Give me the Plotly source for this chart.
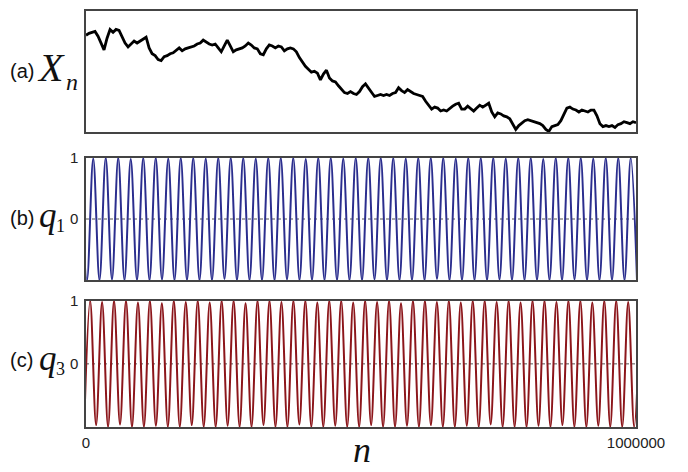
import numpy as np
import plotly.graph_objects as go

# ---------------- data ----------------
# (a) random walk X_n, sampled evenly from n=0 to n=1000000 (arbitrary units)
walk_values = [
    99, 101, 102, 103, 98, 90, 84, 96, 105, 102, 105, 104, 98, 91, 87, 90, 93, 91, 93, 95,
    97, 86, 80, 78, 74, 73, 77, 78, 80, 81, 84, 86, 83, 85, 86, 87, 88, 90, 91, 94,
    92, 90, 89, 90, 86, 82, 88, 94, 88, 82, 84, 85, 86, 88, 91, 89, 86, 85, 80, 79,
    85, 89, 88, 86, 88, 87, 83, 85, 86, 85, 82, 76, 71, 67, 64, 61, 62, 60, 53, 59,
    63, 55, 52, 51, 47, 43, 40, 39, 41, 39, 38, 41, 46, 49, 45, 41, 36, 37, 38, 37,
    38, 37, 39, 40, 45, 42, 40, 43, 41, 39, 38, 37, 36, 31, 27, 23, 25, 24, 21, 22,
    21, 24, 26, 28, 29, 23, 23, 26, 23, 21, 24, 27, 25, 27, 29, 20, 15, 19, 18, 16,
    15, 13, 8, 2, 6, 9, 11, 12, 11, 10, 9, 8, 6, 2, 0, 5, 6, 7, 11, 17,
    24, 25, 23, 22, 20, 22, 21, 20, 22, 22, 16, 8, 5, 6, 5, 6, 4, 7, 8, 10,
    9, 8, 10, 9,
]
n_min, n_max = 0, 1000000

# (b) q1: successive extrema (peak / trough values)
q1_extrema = [
    1, -1, 0.99, -1, 1, -0.99, 1, -1, 0.98, -1,
    1, -1, 1, -0.99, 0.99, -1, 1, -1, 1, -1,
    0.99, -1, 1, -0.98, 1, -1, 1, -1, 0.99, -1,
    1, -1, 1, -0.99, 1, -1, 0.98, -1, 1, -1,
    1, -1, 0.99, -1, 1, -1, 1, -0.99, 1, -1,
    1, -1, 0.99, -1, 1, -1, 1, -0.98, 1, -1,
    0.99, -1, 1, -1, 1, -1, 1, -0.99, 0.99, -1,
    1, -1, 1, -1, 0.98, -1, 1, -1, 1, -0.99,
    1, -1, 0.99, -1, 1, -1, 1, -1, 1, -1,
]
q1_first_n, q1_last_n = -9564, 1001832   # n of first and last extremum

# (c) q3: successive extrema (trough / peak values)
q3_extrema = [
    -1, 1, -0.97, 0.98, -1, 1, -0.96, 1, -1, 0.97,
    -1, 1, -0.98, 0.96, -1, 1, -1, 0.98, -0.97, 1,
    -1, 0.97, -1, 1, -0.98, 1, -1, 0.96, -1, 1,
    -0.97, 1, -1, 0.98, -1, 1, -0.96, 1, -1, 0.97,
    -1, 1, -0.98, 1, -1, 0.97, -1, 1, -0.97, 0.98,
    -1, 1, -1, 0.96, -0.98, 1, -1, 1, -0.97, 0.98,
    -1, 1, -1, 0.97, -0.98, 1, -1, 1, -0.96, 0.98,
    -1, 1, -1, 0.97, -1, 1, -0.98, 1, -1, 0.98,
    -0.97, 1, -1, 1, -1, 0.97, -0.98, 1, -1, 1,
    -1, 0.98, -1, 1,
]
q3_first_n, q3_last_n = -3370, 1007540

x_ticks = [0, 1000000]
x_tick_text = ["0", "1000000"]
q_ticks = [0, 1]
q_tick_text = ["0", "1"]

# ---------------- figure ----------------
W, H = 688, 472
L, R, T, B = 86, 52, 2, 45
PW, PH = W - L - R, H - T - B

def px(xp):
    return (xp - L) / PW

def py(yp):
    return (H - B - yp) / PH

fig = go.Figure()

walk_n = np.linspace(n_min, n_max, len(walk_values))
fig.add_trace(go.Scatter(x=walk_n, y=walk_values, mode="lines",
                         line=dict(color="black", width=2.8),
                         xaxis="x", yaxis="y", showlegend=False))

q1_n = np.linspace(q1_first_n, q1_last_n, len(q1_extrema))
fig.add_trace(go.Scatter(x=q1_n, y=q1_extrema, mode="lines",
                         line=dict(color="#2b2e8e", width=2.0, shape="spline", smoothing=1.0),
                         xaxis="x2", yaxis="y2", showlegend=False))

q3_n = np.linspace(q3_first_n, q3_last_n, len(q3_extrema))
fig.add_trace(go.Scatter(x=q3_n, y=q3_extrema, mode="lines",
                         line=dict(color="#8c161b", width=2.0, shape="spline", smoothing=1.0),
                         xaxis="x3", yaxis="y3", showlegend=False))

box = dict(showline=True, linecolor="#444", linewidth=1.5, mirror=True,
           showgrid=False, zeroline=False)

dom_a = [py(126), py(2)]
dom_b = [py(277), py(152)]
dom_c = [py(427), py(298)]

tick_font = dict(size=15, color="#222")

fig.update_layout(
    width=W, height=H,
    margin=dict(l=L, r=R, t=T, b=B),
    paper_bgcolor="white", plot_bgcolor="white",
    font=dict(family="Liberation Sans, Arial, sans-serif", size=15, color="#222"),
    xaxis=dict(range=[n_min, n_max], anchor="y", showticklabels=False, ticks="", **box),
    yaxis=dict(domain=dom_a, range=[-1, 124], anchor="x", showticklabels=False, ticks="", **box),
    xaxis2=dict(range=[n_min, n_max], anchor="y2", showticklabels=False, ticks="", **box),
    yaxis2=dict(domain=dom_b, range=[-1, 1], anchor="x2", tickvals=q_ticks, ticktext=q_tick_text,
                ticks="", ticklabelstandoff=3, tickfont=tick_font, **box),
    xaxis3=dict(range=[n_min, n_max], anchor="y3", tickvals=x_ticks, ticktext=x_tick_text,
                ticks="", ticklabelstandoff=1, tickfont=tick_font, **box),
    yaxis3=dict(domain=dom_c, range=[-1, 1], anchor="x3", tickvals=q_ticks, ticktext=q_tick_text,
                ticks="", ticklabelstandoff=3, tickfont=tick_font, **box),
)

# dotted zero lines
for yr, xr in (("y2", "x2 domain"), ("y3", "x3 domain")):
    fig.add_shape(type="line", xref=xr, yref=yr, x0=0, x1=1, y0=0, y1=0,
                  line=dict(color="#555", width=1, dash="dot"), layer="below")

serif = "Liberation Serif, DejaVu Serif, serif"
sans = "Liberation Sans, Arial, sans-serif"

def ann(text, xp, yp, size, family, xanchor="left"):
    fig.add_annotation(text=text, x=px(xp), y=py(yp), xref="paper", yref="paper",
                       xanchor=xanchor, yanchor="middle", showarrow=False, borderpad=0,
                       font=dict(size=size, family=family, color="#111"))

# panel labels
ann("(a)", 9, 63, 20, sans)
ann("<i>X</i>", 36, 60, 40, serif)
ann("<i>n</i>", 65, 75, 24, serif)

ann("(b)", 9, 213, 20, sans)
ann("<i>q</i>", 38, 211, 35, serif)
ann("1", 55, 222, 18, serif)

ann("(c)", 9, 359, 20, sans)
ann("<i>q</i>", 38, 357, 35, serif)
ann("3", 55, 368, 18, serif)

# x axis title
ann("<i>n</i>", 362, 451, 36, serif, xanchor="center")

fig.write_html("out.html", post_script="document.body.style.margin='0';",
               config={"displayModeBar": False})
